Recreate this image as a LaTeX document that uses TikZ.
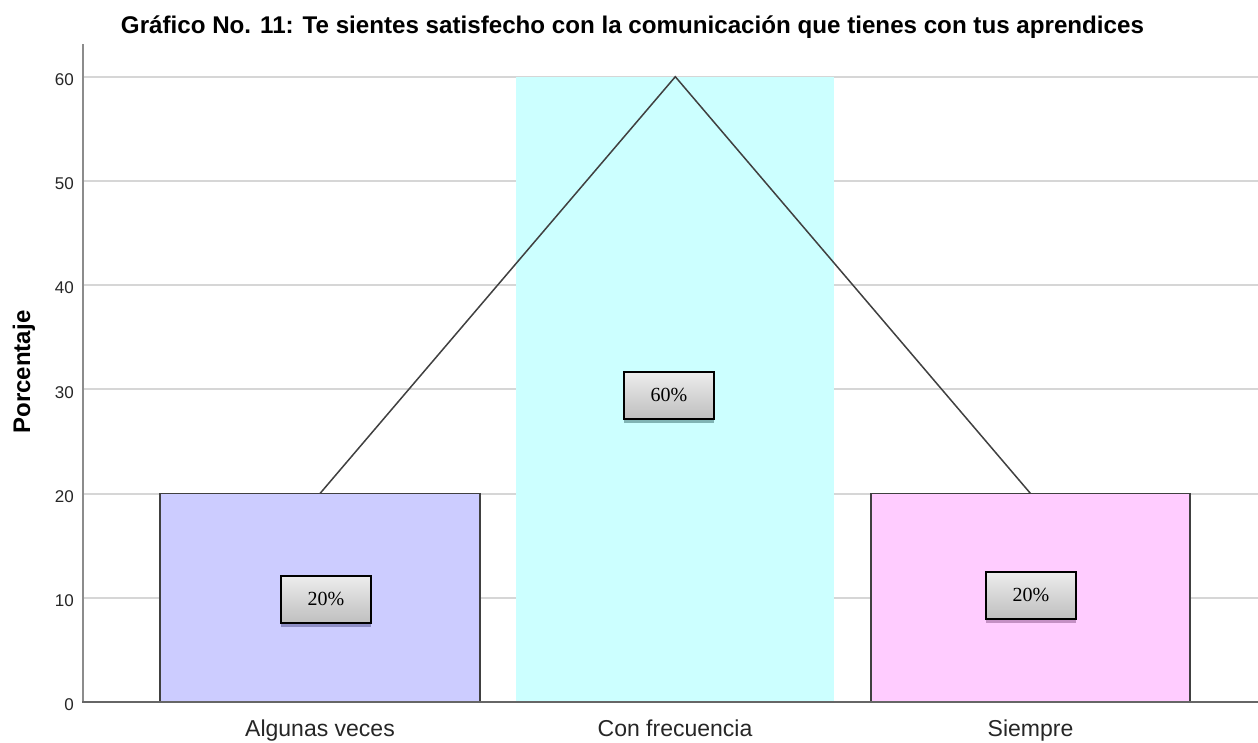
\documentclass[tikz,border=0pt]{standalone}
\usepackage{fontspec}
\setmainfont{Liberation Serif}
\newfontfamily\arialf{Liberation Sans}
\usetikzlibrary{shadows}
\definecolor{gridc}{HTML}{D6D6D6}
\definecolor{axisc}{HTML}{8C8C8C}
\definecolor{barA}{HTML}{CCCCFF}
\definecolor{barB}{HTML}{CCFFFF}
\definecolor{barC}{HTML}{FFCCFF}
\definecolor{shA}{HTML}{8C8CC4}
\definecolor{shB}{HTML}{80B4B4}
\definecolor{shC}{HTML}{C490C4}
\definecolor{linec}{HTML}{404040}
\tikzset{
  gridline/.style={draw=gridc, line width=2pt},
  barbox/.style={draw=linec, line width=1.5pt},
  ticklab/.style={font=\arialf\fontsize{17}{17}\selectfont, anchor=east, text=black!85, inner sep=0pt},
  catlab/.style={font=\arialf\fontsize{23}{23}\selectfont, anchor=base, text=black!85, inner sep=0pt},
  pctbox/.style={draw=black, line width=2pt, top color=black!7, bottom color=black!25,
     minimum width=90pt, minimum height=47pt, inner sep=0pt,
     font=\fontsize{20}{20}\selectfont},
  connector/.style={draw=linec, line width=1.5pt},
}
\begin{document}
\begin{tikzpicture}[x=1pt,y=-1pt]
\useasboundingbox[fill=white] (0,0) rectangle (1258,742);
% title
\node[inner sep=0pt] (title) at (632.5,27) {\resizebox{1023pt}{!}{\arialf\bfseries\fontsize{22}{22}\selectfont Gráfico No. 11: Te sientes satisfecho con la comunicación que tienes con tus aprendices}};
% grid lines
\foreach \v in {10,20,30,40,50,60}{
  \draw[gridline] (84,{701.7-10.41*\v}) -- (1258,{701.7-10.41*\v});
  \node[ticklab] (t\v) at (74,{704.5-10.41*\v}) {\v};
}
\node[ticklab] (t0) at (74,705) {0};
% bars
\fill[barB] (515.7,76.7) rectangle (834.3,701.7);
\draw[barbox, fill=barA] (160,493.5) rectangle (480,701.7);
\draw[barbox, fill=barC] (871,493.5) rectangle (1190,701.7);
\coordinate (p1) at (320,493.5);
\coordinate (p2) at (675.3,76.7);
\coordinate (p3) at (1030.5,493.5);
% axes
\draw[draw=axisc, line width=2pt] (83,44) -- (83,702);
\draw[draw=linec!80, line width=2pt] (82,702) -- (1258,702);
% connector line
\draw[connector] (p1) -- (p2) -- (p3);
% percentage boxes
\node[pctbox, drop shadow={shadow xshift=0pt, shadow yshift=-4pt, fill=shA, opacity=1}] (b1) at (326,599) {20\%};
\node[pctbox, drop shadow={shadow xshift=0pt, shadow yshift=-4pt, fill=shB, opacity=1}] (b2) at (669,395) {60\%};
\node[pctbox, drop shadow={shadow xshift=0pt, shadow yshift=-4pt, fill=shC, opacity=1}] (b3) at (1031,595) {20\%};
% category labels
\node[catlab] (c1) at (320,736) {Algunas veces};
\node[catlab] (c2) at (675,736) {Con frecuencia};
\node[catlab] (c3) at (1030.5,736) {Siempre};
% y axis title
\node[rotate=90, inner sep=0pt, font=\arialf\bfseries\fontsize{24}{24}\selectfont] (ylab) at (24,372) {Porcentaje};
\end{tikzpicture}
\end{document}
